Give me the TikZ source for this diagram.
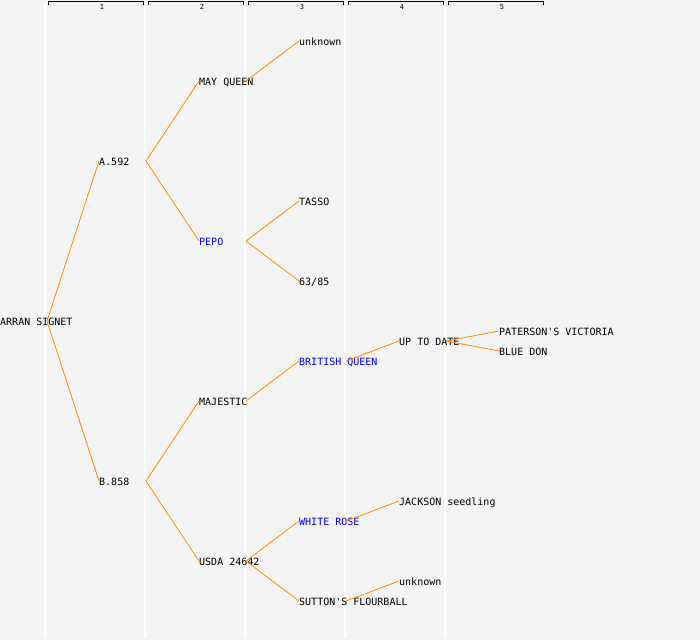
\documentclass[tikz,border=0pt]{standalone}
\usepackage{fontspec}
\setmonofont{DejaVu Sans Mono}
\definecolor{bg}{HTML}{F4F4F4}
\definecolor{link}{HTML}{FF8C00}
\definecolor{hl}{HTML}{0000FF}
\begin{document}
\begin{tikzpicture}[x=1pt,y=-1pt,
  cult/.style={anchor=mid west, inner sep=0pt, font=\ttfamily\fontsize{10}{12}\selectfont, text=black},
  hilite/.style={cult, text=hl},
  colnum/.style={inner sep=0pt, font=\ttfamily\fontsize{7}{8}\selectfont},
  link/.style={draw=link, line width=0.8pt},
  sep/.style={draw=white, line width=1.2pt},
  bracket/.style={draw=black, line width=0.8pt}]
\fill[bg] (0,0) rectangle (700,640);
\useasboundingbox (0,0) rectangle (700,640);
% column separators
\foreach \x in {45,145,245,345,445} \draw[sep] (\x,3) -- (\x,638);
% header brackets
\foreach \i in {1,...,5} {
  \pgfmathsetmacro{\xa}{48+100*(\i-1)}
  \draw[bracket] (\xa,4.5) -- (\xa,1.5) -- (\xa+95,1.5) -- (\xa+95,4.5);
  \node[colnum] (h\i) at (\xa+54,6.8) {\i};
}
% nodes (x, caps centre + 1)
\node[cult] (r) at (0,323) {ARRAN SIGNET};
\node[cult] (a) at (99,163) {A.592};
\node[cult] (b) at (99,483) {B.858};
\node[cult] (mq) at (199,83) {MAY QUEEN};
\node[hilite] (pepo) at (199,243) {PEPO};
\node[cult] (maj) at (199,403) {MAJESTIC};
\node[cult] (usda) at (199,563) {USDA 24642};
\node[cult] (unka) at (299,43) {unknown};
\node[cult] (tasso) at (299,203) {TASSO};
\node[cult] (nsf) at (299,283) {63/85};
\node[hilite] (bq) at (299,363) {BRITISH QUEEN};
\node[hilite] (wr) at (299,523) {WHITE ROSE};
\node[cult] (sf) at (299,603) {SUTTON'S FLOURBALL};
\node[cult] (utd) at (399,343) {UP TO DATE};
\node[cult] (jack) at (399,503) {JACKSON seedling};
\node[cult] (unkb) at (399,583) {unknown};
\node[cult] (pv) at (499,333) {PATERSON'S VICTORIA};
\node[cult] (bd) at (499,353) {BLUE DON};
% connectors
\foreach \p/\c in {r/a, r/b, a/mq, a/pepo, b/maj, b/usda, mq/unka, pepo/tasso, pepo/nsf,
                   maj/bq, usda/wr, usda/sf, bq/utd, wr/jack, sf/unkb, utd/pv, utd/bd}
  \draw[link] ([xshift=47pt,yshift=2pt]\p.mid west) -- ([yshift=2pt]\c.mid west);
\end{tikzpicture}
\end{document}
